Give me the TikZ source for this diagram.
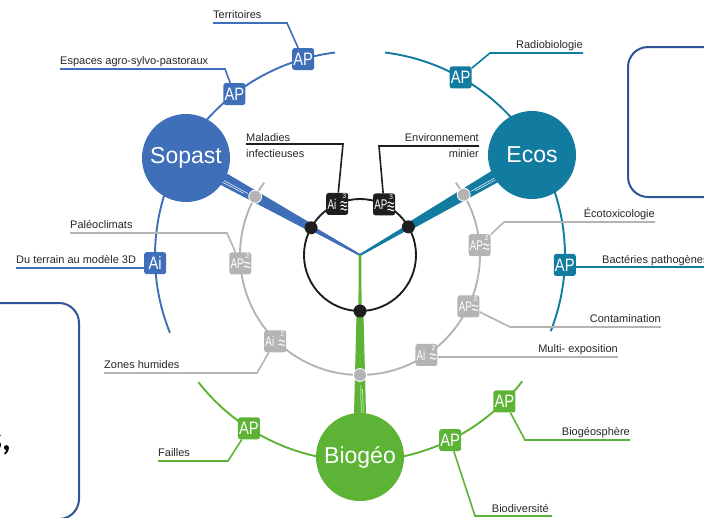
\documentclass[tikz,border=0pt]{standalone}
\usepackage{fontspec}
\setmainfont{Liberation Sans}
\newfontfamily\carlito{Carlito}
\newfontfamily\condA[FakeStretch=0.82]{Liberation Sans}
\newfontfamily\condB[FakeStretch=0.7]{Liberation Sans}
\usetikzlibrary{calc}
\definecolor{cSop}{HTML}{3F6FB8}
\definecolor{cEco}{HTML}{127BA0}
\definecolor{cBio}{HTML}{5DB335}
\definecolor{cGry}{HTML}{B4B4B4}
\definecolor{cBlk}{HTML}{1E1E1E}
\definecolor{cFrm}{HTML}{2F5597}
\definecolor{cTxt}{HTML}{262626}
\tikzset{
 lab/.style={font=\fontsize{11}{13}\selectfont, text=cTxt, inner sep=0pt},
 lline/.style={line width=1.6pt},
 arcline/.style={line width=1.9pt},
 bigbox/.style={rounded corners=2.5pt, minimum width=22pt, minimum height=22pt, inner sep=0pt, text=white, font=\condA\fontsize{18}{18}\selectfont},
 smallbox/.style={rounded corners=2.5pt, minimum width=22pt, minimum height=22pt, inner sep=0pt},
 bigcirc/.style={circle, minimum size=88pt, inner sep=0pt, text=white, font=\fontsize{23}{23}\selectfont},
 dotnode/.style={circle, minimum size=13pt, inner sep=0pt},
 frame/.style={draw=cFrm, line width=2pt, rounded corners=20pt},
}
\newcommand{\supbox}[6]{%
 \node[smallbox, fill=#3] (#1) at (#2) {};
 \node[font=\condB\fontsize{14}{14}\selectfont, text=white, anchor=west, inner sep=0pt] (#1t) at ([xshift=1.3pt,yshift=-0.3pt]#1.west) {#4};
 \node[font=\fontsize{7}{7}\selectfont, text=white, anchor=north east, inner sep=0pt] (#1n) at ([xshift=-2pt,yshift=-1.2pt]#1.north east) {#5};
 \foreach \wy in {#6} {\draw[white, line width=1pt, line cap=round] ([xshift=-7.6pt, yshift=\wy*1pt]#1.east) sin ++(1.5,0.8) cos ++(1.5,-0.8) sin ++(1.5,-0.8) cos ++(1.5,0.8);}
}
\begin{document}
\begin{tikzpicture}[x=1pt,y=1pt]
\useasboundingbox (0,0) rectangle (704,-517);
\coordinate (C) at (360,-256);
\coordinate (J) at (360,-255);

% frames
\draw[frame] (628,-47) rectangle (790,-197);
\draw[frame] (-60,-303) rectangle (79,-519);
\node[font=\carlito\bfseries\fontsize{34}{34}\selectfont, anchor=base east, inner sep=0pt, text=black] (frtxt) at (11,-450) {s,};

% arcs
\draw[cSop, arcline] ($(C)+(97:205)$) arc[start angle=97, end angle=202, radius=205];
\draw[cEco, arcline] ($(C)+(83:205)$) arc[start angle=83, end angle=-21.5, radius=205];
\draw[cBio, arcline] ($(C)+(218:205)$) arc[start angle=218, end angle=322.3, radius=205];
\draw[cGry, arcline] ($(J)+(143:120)$) arc[start angle=143, end angle=397, radius=120];
\draw[cBlk, arcline] (J) circle[radius=56];

% branches
\begin{scope}[shift={(J)}, rotate=150.9]
 \fill[cSop] (0,-1) -- (56,-2.4) -- (56,2.4) -- (0,1) -- cycle;
 \fill[cSop] (56,-3.8) -- (175,-7) -- (175,7) -- (56,3.8) -- cycle;
 \draw[white, line width=0.5pt] (128,0.8) -- (160,1.2) (132,2.6) -- (160,3.4);
\end{scope}
\begin{scope}[shift={(J)}, rotate=30.2]
 \fill[cEco] (0,-1) -- (56,-2.4) -- (56,2.4) -- (0,1) -- cycle;
 \fill[cEco] (56,-3.8) -- (175,-7) -- (175,7) -- (56,3.8) -- cycle;
 \draw[white, line width=0.5pt] (128,-0.8) -- (160,-1.2) (132,-2.6) -- (160,-3.4);
\end{scope}
\begin{scope}[shift={(J)}, rotate=270]
 \fill[cBio] (0,-1.3) -- (56,-1.6) -- (56,1.6) -- (0,1.3) -- cycle;
 \fill[cBio] (56,-3.4) -- (178,-6.5) -- (178,6.5) -- (56,3.4) -- cycle;
 \draw[white, line width=0.5pt] (130,0.8) -- (162,1.2) (134,2.6) -- (162,3.4);
\end{scope}

% big circles
\node[bigcirc, fill=cSop] (sop) at (186,-158) {Sopast};
\node[bigcirc, fill=cEco] (eco) at (532,-155) {Ecos};
\node[bigcirc, fill=cBio] (bio) at (360,-457) {Biogéo};

% dots
\node[dotnode, fill=cBlk] (bd1) at ($(J)+(150.9:56)$) {};
\node[dotnode, fill=cBlk] (bd2) at ($(J)+(30.2:56)$) {};
\node[dotnode, fill=cBlk] (bd3) at ($(J)+(270:56)$) {};
\node[dotnode, fill=cGry, draw=white, line width=0.8pt] (gd1) at ($(J)+(150.9:120)$) {};
\node[dotnode, fill=cGry, draw=white, line width=0.8pt] (gd2) at ($(J)+(30.2:120)$) {};
\node[dotnode, fill=cGry, draw=white, line width=0.8pt] (gd3) at ($(J)+(270:120)$) {};

% coloured boxes
\node[bigbox, fill=cSop] (apT) at ($(C)+(106.1:205)$) {AP};
\node[bigbox, fill=cSop] (apE) at ($(C)+(127.8:205)$) {AP};
\node[bigbox, fill=cSop] (aiD) at ($(C)+(182:205)$) {Ai};
\node[bigbox, fill=cEco] (apR) at ($(C)+(60.6:205)$) {AP};
\node[bigbox, fill=cEco] (apBa) at ($(C)+(-2.5:205)$) {AP};
\node[bigbox, fill=cBio] (apF) at ($(C)+(237.2:205)$) {AP};
\node[bigbox, fill=cBio] (apBd) at ($(C)+(296.1:205)$) {AP};
\node[bigbox, fill=cBio] (apBs) at ($(C)+(314.8:205)$) {AP};

% grey and black boxes
\supbox{apL2}{$(J)+(184:120)$}{cGry}{AP}{2}{0.5,-3.5}
\supbox{aiZ2}{$(J)+(225.5:121)$}{cGry}{Ai}{2}{0.5,-3.5}
\supbox{apR2}{$(J)+(4.7:120)$}{cGry}{AP}{2}{0.5,-3.5}
\supbox{apC2}{$(J)+(-25.3:120)$}{cGry}{AP}{2}{0.5,-3.5}
\supbox{aiM2}{$(J)+(-56.4:120)$}{cGry}{Ai}{2}{0.5,-3.5}
\supbox{aiB3}{$(J)+(114:56)$}{cBlk}{Ai}{3}{1.5,-2,-5.5}
\supbox{apB3}{$(J)+(64.5:56)$}{cBlk}{AP}{3}{1.5,-2,-5.5}

% label lines
\coordinate (dL) at (16,-268);
\coordinate (bL) at (710,-267);
\coordinate (mL) at (618,-357);
\draw[cSop, lline] (213,-23) -- (287,-23) -- (apT);
\draw[cSop, lline] (60,-69) -- (225,-69) -- (apE);
\draw[cSop, lline] (dL) -- (dL -| aiD.west);
\draw[cEco, lline] (583,-53) -- (490,-53) -- (apR);
\draw[cEco, lline] (bL -| apBa.east) -- (bL);
\draw[cBio, lline] (158,-461) -- (228,-461) -- (apF);
\draw[cBio, lline] (630,-440) -- (525,-440) -- (apBs);
\draw[cBio, lline] (552,-516) -- (475,-516) -- (apBd);
\draw[cGry, lline] (70,-233) -- (227,-233) -- (apL2);
\draw[cGry, lline] (104,-373) -- (257,-373) -- (aiZ2);
\draw[cGry, lline] (655,-222) -- (504,-222) -- (apR2);
\draw[cGry, lline] (661,-327) -- (510,-327) -- (apC2);
\draw[cGry, lline] (mL) -- (mL -| aiM2.east);
\draw[cBlk, lline] (246,-144) -- (343,-144) -- (aiB3);
\draw[cBlk, lline] (479,-146) -- (379,-146) -- (apB3);

% labels
\node[lab, anchor=base west] (tTer) at (213,-18.5) {Territoires};
\node[lab, anchor=base west] (tEsp) at (60,-64.5) {Espaces agro-sylvo-pastoraux};
\node[lab, anchor=base west] (tDut) at (16,-263) {Du terrain au modèle 3D};
\node[lab, anchor=base west] (tPal) at (70,-228.5) {Paléoclimats};
\node[lab, anchor=base west] (tMal) at (246,-141) {Maladies};
\node[lab, anchor=base west] (tInf) at (246,-157) {infectieuses};
\node[lab, anchor=base east] (tEnv) at (479,-141) {Environnement};
\node[lab, anchor=base east] (tMin) at (479,-157) {minier};
\node[lab, anchor=base east] (tRad) at (583,-48.5) {Radiobiologie};
\node[lab, anchor=base east] (tEco) at (655,-217.5) {Écotoxicologie};
\node[lab, anchor=base west] (tBac) at (602,-263) {Bactéries pathogènes};
\node[lab, anchor=base east] (tCon) at (661,-322.5) {Contamination};
\node[lab, anchor=base east] (tMul) at (618,-352.5) {Multi- exposition};
\node[lab, anchor=base west] (tZon) at (104,-368.5) {Zones humides};
\node[lab, anchor=base west] (tFai) at (158,-456.5) {Failles};
\node[lab, anchor=base east] (tBgs) at (630,-435.5) {Biogéosphère};
\node[lab, anchor=base east] (tBdv) at (549,-512) {Biodiversité};
\end{tikzpicture}
\end{document}
